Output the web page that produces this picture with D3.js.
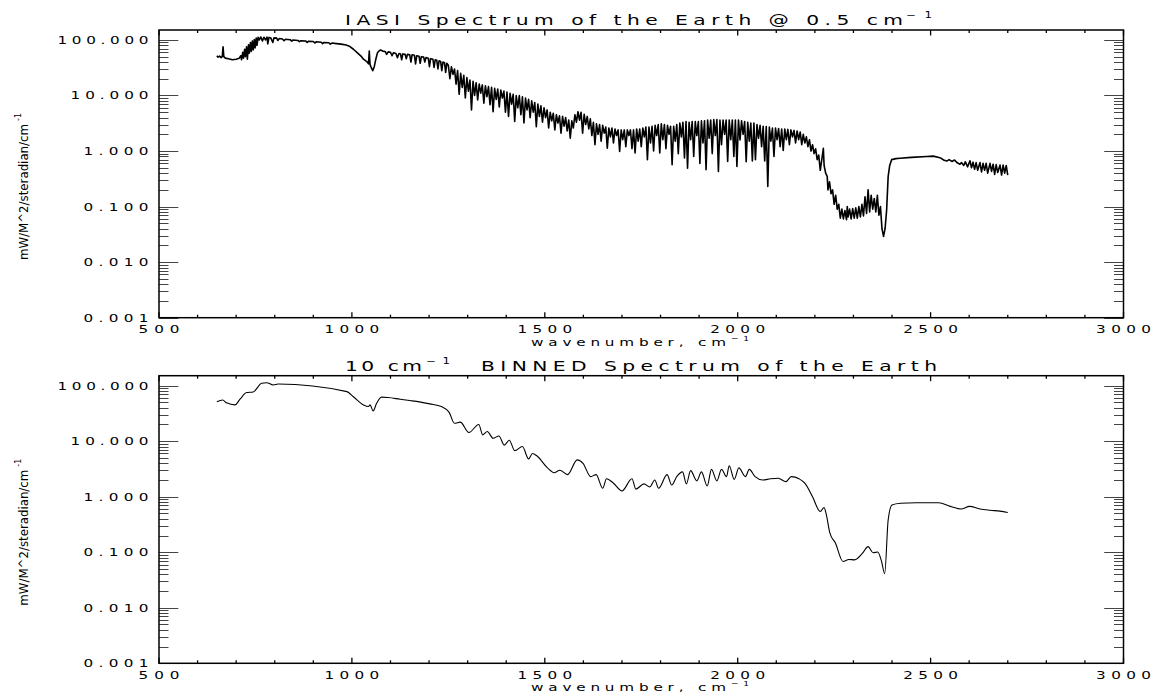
<!DOCTYPE html>
<html>
<head>
<meta charset="utf-8">
<script src="https://cdn.jsdelivr.net/npm/d3@7"></script>
<style>
body { margin: 0; background: #fff; }
svg { display: block; }
text { font-family: "DejaVu Sans", sans-serif; fill: #000; }
</style>
</head>
<body>
<svg id="chart" width="1154" height="693"></svg>
<script>
// IASI 0.5 cm-1 spectrum as [wavenumber, radiance]
var iasiLongwave = [
  [650,52],[653,49],[657,51],[661,48],[664,50],[666,75],[668,50],[672,47],[680,46],[690,44],[700,45],[708,47],
  [712,52],[714,44],[717,60],[719,47],[722,68],[724,50],[727,75],[729,45],[732,82],[734,58],[737,90],[739,62],
  [742,96],[744,66],[747,102],[749,72],[752,108],[754,80],[757,112],[760,100],[764,113],[768,96],[772,112],
  [776,100],[780,112],[782,85],[785,111],[790,108],[795,90],[798,109],[805,108],[808,98],[812,106],[820,104],
  [824,97],[828,103],[840,101],[844,95],[848,100],[860,98],[864,93],[868,97],[880,96],[884,90],[888,95],
  [900,94],[904,88],[908,93],[920,91],[924,86],[928,90],[940,89],[944,84],[948,88],[960,86],[972,84],[985,81],
  [995,76],[1004,68],[1015,58],[1025,50],[1030,45],[1036,42],[1040,40],[1043,37],[1045,63],[1047,36],[1050,32],
  [1054,28],[1058,33],[1062,45],[1066,58],[1070,63],[1074,66],[1080,63],[1086,62],[1090,55],[1094,61],[1100,60],
  [1104,52],[1108,59],[1114,57],[1118,48],[1122,57],[1126,56],[1129,44],[1132,56],[1138,55],[1141,46],[1144,55],
  [1150,54],[1153,40],[1156,54],[1162,53],[1165,37],[1168,52],[1174,51],[1177,38],[1180,50],[1186,49],[1189,40],
  [1192,48],[1198,47],[1201,33],[1204,46],[1210,45],[1213,32],[1216,44],[1220,43],[1223,30],[1226,42],[1230,41],
  [1233,28],[1236,40],[1240,39],[1243,26],[1246,38]
];
var iasiWaterBand = [
  [1250,35],[1254,20],[1258,33],[1262,24],[1266,30],[1270,16],[1274,28],[1278,10.5],[1282,25],[1286,14],[1290,23],
  [1294,9],[1298,21],[1302,12],[1306,19],[1310,5.5],[1314,18],[1318,10],[1322,17],[1326,8.3],[1330,16],[1334,11],
  [1338,15.5],[1342,7.3],[1346,15],[1350,9.5],[1354,14.5],[1358,6.8],[1362,14],[1366,5.1],[1370,13.5],[1374,8.5],
  [1378,13],[1382,6.2],[1386,12.5],[1390,9],[1394,12],[1398,5],[1402,11.5],[1406,4.2],[1410,11],[1414,7],
  [1418,10.5],[1422,3.4],[1426,10],[1430,6],[1434,10],[1438,4.5],[1442,9.5],[1446,3.2],[1450,9],[1454,5.5],
  [1458,8.5],[1462,4],[1466,8],[1470,5],[1474,7.5],[1478,2.75],[1482,7],[1486,4.2],[1490,6.5],[1494,3.3],[1498,6],
  [1502,4],[1506,5.5],[1510,2.6],[1514,5],[1518,3.5],[1522,4.8],[1526,2.4],[1530,4.5],[1534,3.2],[1538,4.3],
  [1542,2.1],[1546,4.2],[1550,2.8],[1554,4],[1558,2.3],[1562,3.6],[1566,1.7],[1570,3.5],[1574,2.6],[1578,4.5],
  [1582,3.3],[1586,5.1],[1590,3.6],[1594,5],[1598,2.1],[1602,4.6],[1606,3],[1610,4.2],[1614,2.5],[1618,3.8],
  [1622,1.9],[1626,3.3],[1630,1.3]
];
var iasiMidBand = [
  [1634,3.1],[1638,2.0],[1642,3.0],[1646,1.5],[1650,2.9],[1654,2.1],[1658,2.7],[1662,1.12],[1666,2.6],[1670,1.8],
  [1674,2.6],[1678,1.4],[1682,2.5],[1686,1.9],[1690,2.4],[1694,0.98],[1698,2.4],[1702,1.6],[1706,2.4],[1710,1.2],
  [1714,2.4],[1718,1.9],[1722,2.4],[1726,1.1],[1730,2.4],[1734,0.92],[1738,2.5],[1742,1.5],[1746,2.5],[1750,1.2],
  [1754,2.6],[1758,1.8],[1762,2.7],[1766,0.7],[1770,2.7],[1774,1.4],[1778,2.8],[1782,1.0],[1786,2.9],[1790,1.9],
  [1794,3.0],[1798,0.92],[1802,3.1],[1806,1.6],[1810,3.0],[1814,1.1],[1818,2.9],[1822,2.0],[1826,2.8],[1830,0.57],
  [1834,2.8],[1838,1.5],[1842,3.0],[1846,0.9],[1850,3.2],[1854,1.8],[1858,3.3],[1862,0.75],[1866,3.4],[1870,0.49],
  [1874,3.3],[1878,1.6],[1882,3.4],[1886,0.8],[1890,3.4],[1894,1.9],[1898,3.4],[1902,0.6],[1906,3.5],[1910,1.4],
  [1914,3.5],[1918,0.46],[1922,3.6],[1926,1.7],[1930,3.6],[1934,0.9],[1938,3.7],[1942,1.9],[1946,3.7],[1950,0.43],
  [1954,3.6],[1958,1.3],[1962,3.6],[1966,2.0],[1970,3.6],[1974,0.65],[1978,3.6],[1982,1.6],[1986,3.6],[1990,0.8],
  [1994,3.6],[1998,0.53],[2002,3.6]
];
var iasiShortwave = [
  [2006,1.58],[2010,3.5],[2014,2.0],[2018,3.4],[2022,0.64],[2026,3.3],[2030,1.5],[2034,3.2],[2038,0.66],[2042,3.2],
  [2046,0.7],[2050,3.0],[2054,1.7],[2058,2.9],[2062,1.2],[2066,2.8],[2070,0.66],[2074,2.75],[2078,0.23],[2082,2.7],
  [2086,1.5],[2090,2.6],[2094,0.8],[2098,2.6],[2102,1.6],[2106,2.55],[2110,1.2],[2114,2.5],[2118,1.03],[2122,2.5],
  [2126,1.6],[2130,2.45],[2134,1.3],[2138,2.4],[2142,1.8],[2146,2.35],[2150,1.4],[2154,2.3],[2158,1.6],[2162,2.2],
  [2166,1.3],[2170,2.0],[2174,1.4],[2178,1.8],[2182,1.2],[2186,1.6],[2190,1.0],[2194,1.3],[2198,0.9],[2202,1.1],
  [2206,0.7],[2210,0.85],[2214,0.45],[2218,0.7],[2222,1.12],[2224,0.55],[2228,0.4],[2232,0.35],[2234,0.2],
  [2238,0.28],[2242,0.17],[2246,0.2],[2250,0.11],[2254,0.16],[2258,0.09],[2262,0.11],[2266,0.062],[2270,0.09],
  [2274,0.06],[2278,0.085],[2282,0.058],[2284,0.1],[2286,0.065],[2290,0.09],[2294,0.06],[2298,0.092],[2302,0.062],
  [2306,0.095],[2310,0.062],[2314,0.1],[2318,0.065],[2322,0.11],[2326,0.068],[2330,0.15],[2334,0.075],[2338,0.2],
  [2342,0.08],[2346,0.16],[2350,0.09],[2354,0.14],[2358,0.08],[2362,0.16],[2366,0.07],[2370,0.1],[2374,0.04],
  [2378,0.029],[2382,0.04],[2386,0.086],[2390,0.35],[2394,0.55],[2399,0.7],[2410,0.73],[2421,0.74],[2450,0.77],
  [2490,0.8],[2507,0.81],[2524,0.76],[2530,0.72],[2535,0.68],[2542,0.66],[2548,0.7],[2555,0.65],[2562,0.69],
  [2568,0.62],[2576,0.58],[2580,0.62],[2586,0.55],[2590,0.64],[2596,0.52],[2602,0.67],[2606,0.5],[2610,0.63],
  [2614,0.47],[2618,0.62],[2622,0.45],[2628,0.62],[2632,0.42],[2636,0.6],[2640,0.45],[2644,0.6],[2648,0.4],
  [2654,0.6],[2658,0.43],[2662,0.58],[2666,0.38],[2670,0.57],[2674,0.41],[2680,0.56],[2684,0.37],[2688,0.56],
  [2692,0.4],[2696,0.55],[2700,0.37]
];
var iasiSpectrum = iasiLongwave.concat(iasiWaterBand, iasiMidBand, iasiShortwave);

// 10 cm-1 binned spectrum
var binnedSpectrum = [
  [650,51.5],[665,55],[675,49],[697,45],[710,57],[727,75],[744,77],[766,110],[779,113],[796,103],[809,107],
  [987,78],[1004,63],[1030,45],[1043,42],[1047,45],[1055,35],[1064,48],[1077,62],[1094,61],[1125,57],[1150,54],
  [1175,51],[1202,47],[1232,42],[1252,33],[1266,21],[1281,22],[1303,14.3],[1329,20],[1339,13],[1351,14.9],
  [1366,11.3],[1381,12.4],[1395,8.5],[1408,10.4],[1422,6.75],[1442,8.0],[1458,4.8],[1468,6.0],[1480,5.4],
  [1507,3.3],[1524,2.7],[1539,3.0],[1559,2.5],[1584,4.6],[1599,4.0],[1619,2.3],[1633,2.5],[1650,1.42],[1660,2.1],
  [1678,1.75],[1700,1.27],[1726,2.1],[1736,1.37],[1757,1.7],[1772,1.5],[1785,2.0],[1795,1.42],[1817,2.5],
  [1829,1.62],[1842,2.3],[1857,2.8],[1867,1.7],[1878,2.95],[1894,1.93],[1906,2.8],[1921,1.56],[1932,3.1],
  [1946,1.93],[1958,3.1],[1971,2.3],[1978,3.6],[1991,2.05],[2003,3.3],[2020,2.3],[2030,3.1],[2045,2.3],[2065,2.0],
  [2085,2.1],[2105,2.15],[2125,1.87],[2139,2.3],[2159,2.1],[2174,1.75],[2194,1.0],[2214,0.54],[2224,0.64],
  [2229,0.5],[2239,0.22],[2253,0.148],[2273,0.068],[2288,0.074],[2303,0.073],[2323,0.095],[2338,0.126],
  [2351,0.098],[2363,0.101],[2373,0.068],[2381,0.041],[2390,0.38],[2400,0.71],[2422,0.76],[2462,0.78],
  [2521,0.78],[2551,0.67],[2579,0.6],[2601,0.67],[2628,0.6],[2655,0.57],[2680,0.55],[2700,0.52]
];

var xTickValues = [500, 1000, 1500, 2000, 2500, 3000];
var xTickLabels = ["500", "1000", "1500", "2000", "2500", "3000"];
var yTickValues = [0.001, 0.01, 0.1, 1, 10, 100];
var yTickLabels = ["0.001", "0.010", "0.100", "1.000", "10.000", "100.000"];
var yAxisTitle = "mW/M^2/steradian/cm";
var xAxisTitle = "wavenumber, cm";

var svg = d3.select("#chart");
var left = 159, right = 1123.5;

var panels = [
  { top: 30, bottom: 317.7, data: iasiSpectrum, lw: 1.6, curve: d3.curveLinear,
    title: [["IASI Spectrum of the Earth @ 0.5 cm", 345, 558]], sup: [[906, 26]] },
  { top: 375.7, bottom: 663.3, data: binnedSpectrum, lw: 1.1, curve: d3.curveMonotoneX,
    title: [["10 cm", 345, 77], ["BINNED Spectrum of the Earth", 481, 456]], sup: [[426, 24]] }
];

// wide, spaced text to mimic the IDL vector font: glyphs stretched by sx, the rest as spacing
function wide(g, x, y, str, len, size, sx) {
  sx = sx || 1.45;
  return g.append("text")
    .attr("transform", "translate(" + x + "," + y + ") scale(" + sx + ",1)")
    .attr("font-size", size)
    .attr("textLength", len / sx)
    .attr("lengthAdjust", "spacing")
    .text(str);
}

var x = d3.scaleLinear().domain([500, 3000]).range([left, right]);

var xMinor = d3.range(500, 3001, 100);
var yMinor = [];
yTickValues.slice(0, 5).forEach(function (d) {
  for (var k = 2; k <= 9; k++) yMinor.push(d * k);
});

panels.forEach(function (p) {
  var g = svg.append("g");
  var y = d3.scaleLog().domain([0.001, 151]).range([p.bottom, p.top]);

  // ticks
  xMinor.forEach(function (v) {
    var len = xTickValues.indexOf(v) >= 0 ? 5.5 : 3;
    g.append("line").attr("x1", x(v)).attr("x2", x(v)).attr("y1", p.bottom).attr("y2", p.bottom - len)
      .attr("stroke", "#000").attr("stroke-width", 1.3);
    g.append("line").attr("x1", x(v)).attr("x2", x(v)).attr("y1", p.top).attr("y2", p.top + len)
      .attr("stroke", "#000").attr("stroke-width", 1.3);
  });
  yTickValues.concat(yMinor).forEach(function (v) {
    var len = yTickValues.indexOf(v) >= 0 ? 19.3 : 9.5;
    var yy = Math.round(y(v)) + 0.5;
    g.append("line").attr("x1", left).attr("x2", left + len).attr("y1", yy).attr("y2", yy)
      .attr("stroke", "#444").attr("stroke-width", 1);
    g.append("line").attr("x1", right).attr("x2", right - len).attr("y1", yy).attr("y2", yy)
      .attr("stroke", "#444").attr("stroke-width", 1);
  });

  g.append("rect")
    .attr("x", left).attr("y", p.top)
    .attr("width", right - left).attr("height", p.bottom - p.top)
    .attr("fill", "none").attr("stroke", "#000").attr("stroke-width", 1.5);

  // tick labels
  xTickValues.forEach(function (v, i) {
    var len = 13.7 * xTickLabels[i].length;
    wide(g, x(v) - len / 2, p.bottom + 15.6, xTickLabels[i], len, 10.5);
  });
  yTickValues.forEach(function (v, i) {
    var len = 13 * yTickLabels[i].length;
    wide(g, 148.5 - len, y(v) + 4, yTickLabels[i], len, 10.5);
  });

  // axis titles
  wide(g, 531, p.bottom + 28, xAxisTitle, 195, 10.5);
  wide(g, 731, p.bottom + 23, "\u22121", 18, 7, 1.3);

  var off = p.top - 30;
  g.append("text")
    .attr("transform", "translate(27.5," + (260 + off) + ") rotate(-90)")
    .attr("font-family", "'Liberation Sans Narrow', 'DejaVu Sans Condensed', sans-serif")
    .attr("font-size", 13)
    .attr("textLength", 136)
    .attr("lengthAdjust", "spacingAndGlyphs")
    .text(yAxisTitle);
  g.append("text")
    .attr("transform", "translate(21," + (121 + off) + ") rotate(-90)")
    .attr("font-family", "'Liberation Sans Narrow', 'DejaVu Sans Condensed', sans-serif")
    .attr("font-size", 8)
    .text("-1");

  // panel titles
  p.title.forEach(function (t) {
    wide(g, t[1], p.top - 5, t[0], t[2], 13.5, 1.5);
  });
  p.sup.forEach(function (s) {
    wide(g, s[0], p.top - 12, "\u22121", s[1], 8.5, 1.4);
  });

  // spectrum
  var line = d3.line().curve(p.curve)
    .x(function (d) { return x(d[0]); })
    .y(function (d) { return y(d[1]); });
  g.append("path")
    .datum(p.data)
    .attr("d", line)
    .attr("fill", "none")
    .attr("stroke", "#000")
    .attr("stroke-width", p.lw)
    .attr("stroke-linejoin", "round");
});
</script>
</body>
</html>
